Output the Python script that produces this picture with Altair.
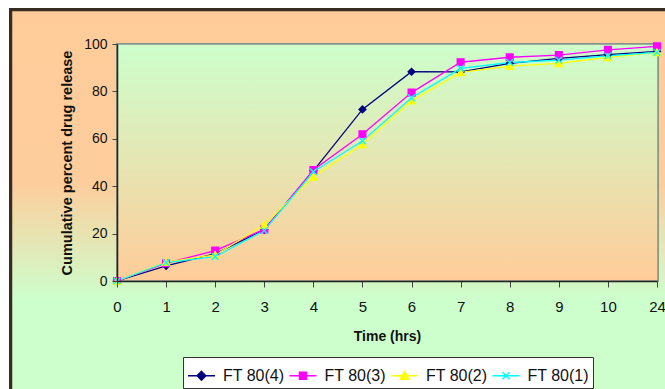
import altair as alt
import pandas as pd

times = ["0", "1", "2", "3", "4", "5", "6", "7", "8", "9", "10", "24"]
series_names = ["FT 80(4)", "FT 80(3)", "FT 80(2)", "FT 80(1)"]
ft80_4 = [0, 6.4, 11.5, 21.6, 46.5, 72.4, 88.3, 88.2, 91.8, 93.9, 95.5, 96.9]
ft80_3 = [0, 7.5, 12.8, 21.8, 46.8, 61.9, 79.5, 92.3, 94.4, 95.3, 97.5, 99.0]
ft80_2 = [0, 8.0, 11.0, 23.7, 44.0, 57.7, 76.1, 88.0, 90.7, 91.8, 94.4, 96.5]
ft80_1 = [0, 7.8, 10.3, 21.3, 46.1, 59.1, 77.3, 89.7, 92.2, 93.2, 95.0, 96.5]
colors = ["#000080", "#FF00FF", "#FFFF00", "#00FFFF"]
plot_shapes = ["diamond", "square", "triangle-up", "M-1,-1L1,1M-1,1L1,-1"]
legend_shapes = [
    "M-1,0H1M0,-0.32L0.32,0L0,0.32L-0.32,0Z",
    "M-1,0H1M-0.26,-0.26H0.26V0.26H-0.26Z",
    "M-1,0H1M0,-0.32L0.32,0.26H-0.32Z",
    "M-1,0H1M-0.26,-0.26L0.26,0.26M-0.26,0.26L0.26,-0.26",
]

rows = []
for name, vals in zip(series_names, [ft80_4, ft80_3, ft80_2, ft80_1]):
    for t, v in zip(times, vals):
        rows.append({"time": t, "value": v, "series": name})
df = pd.DataFrame(rows)

W, H = 540, 237
FONT = "Liberation Sans"

xenc = alt.X("time:O", sort=times, scale=alt.Scale(type="point", padding=0),
             axis=alt.Axis(title="Time (hrs)", labelAngle=0, labelFontSize=15,
                           labelPadding=12, tickSize=6, titleFontSize=14,
                           titleFontWeight="bold", titlePadding=15,
                           domainColor="#222222", domainWidth=1.5,
                           tickColor="#444444", labelColor="#111111",
                           titleColor="#111111", zindex=1))
yenc = alt.Y("value:Q", scale=alt.Scale(domain=[0, 100], nice=False),
             axis=alt.Axis(title="Cumulative percent drug release",
                           values=[0, 20, 40, 60, 80, 100], labelFontSize=14,
                           labelPadding=5, tickSize=5, titleFontSize=14.5,
                           titleFontWeight="bold", titlePadding=9,
                           grid=False, domainColor="#222222", domainWidth=1.5,
                           tickColor="#444444", labelColor="#111111",
                           titleColor="#111111", zindex=1))

fill_scale = alt.Scale(domain=series_names, range=colors)
leg = alt.Legend(title=None)

base = alt.Chart(df)

outer_bg = base.mark_rect(
    fill=alt.LinearGradient(gradient="linear", x1=0, x2=0, y1=0, y2=1,
                            stops=[alt.GradientStop(offset=0, color="#FFCC99"),
                                   alt.GradientStop(offset=0.38, color="#FDCD9C"),
                                   alt.GradientStop(offset=0.64, color="#CCFFCC"),
                                   alt.GradientStop(offset=1, color="#CCFFCC")]),
    stroke="#3a2c22", strokeWidth=2.5
).encode(x=alt.value(-106), x2=alt.value(700), y=alt.value(-34), y2=alt.value(420))

plot_bg = base.mark_rect(
    fill=alt.LinearGradient(gradient="linear", x1=0, x2=0, y1=0, y2=1,
                            stops=[alt.GradientStop(offset=0, color="#CCFFCC"),
                                   alt.GradientStop(offset=1, color="#FFCC99")]),
    stroke="#8a958a", strokeWidth=1.5
).encode(x=alt.value(0), x2=alt.value(W + 1), y=alt.value(0), y2=alt.value(H))

lines = base.mark_line(strokeWidth=1.3).encode(
    x=xenc, y=yenc,
    stroke=alt.Stroke("series:N", scale=fill_scale, legend=leg),
    detail="series:N",
)

point_layers = []
for name, shp in zip(series_names, plot_shapes):
    point_layers.append(
        base.transform_filter(alt.datum.series == name).mark_point(
            shape=shp, size=45 if shp != "triangle-up" else 55, strokeWidth=1.4,
            opacity=1, filled=True
        ).encode(
            x=xenc, y=yenc,
            fill=alt.Fill("series:N", scale=fill_scale, legend=leg),
            stroke=alt.Stroke("series:N", scale=fill_scale, legend=leg),
        )
    )

legend_layer = base.transform_filter("false").mark_point(size=729, opacity=1).encode(
    x=xenc, y=yenc,
    fill=alt.Fill("series:N", scale=fill_scale, legend=leg),
    stroke=alt.Stroke("series:N", scale=fill_scale, legend=leg),
    shape=alt.Shape("series:N", scale=alt.Scale(domain=series_names, range=legend_shapes),
                    legend=leg),
)

chart = alt.layer(outer_bg, plot_bg, lines, *point_layers, legend_layer).properties(
    width=W, height=H,
    autosize=alt.AutoSizeParams(type="none"),
    padding={"left": 117, "top": 44, "right": 8, "bottom": 108},
    background="white",
).configure_view(stroke=None).configure_axis(
    labelFont=FONT, titleFont=FONT
).configure_legend(
    orient="none", legendX=66, legendY=313, direction="horizontal",
    labelFont=FONT, labelFontSize=16, labelColor="#111111",
    symbolSize=729, symbolStrokeWidth=1.5, labelOffset=7, columnPadding=1.5,
    padding=4, strokeColor="#333333", fillColor="#FFFFFF", symbolOpacity=1,
)

chart.save("out.html", embed_options={"renderer": "svg", "actions": False})
